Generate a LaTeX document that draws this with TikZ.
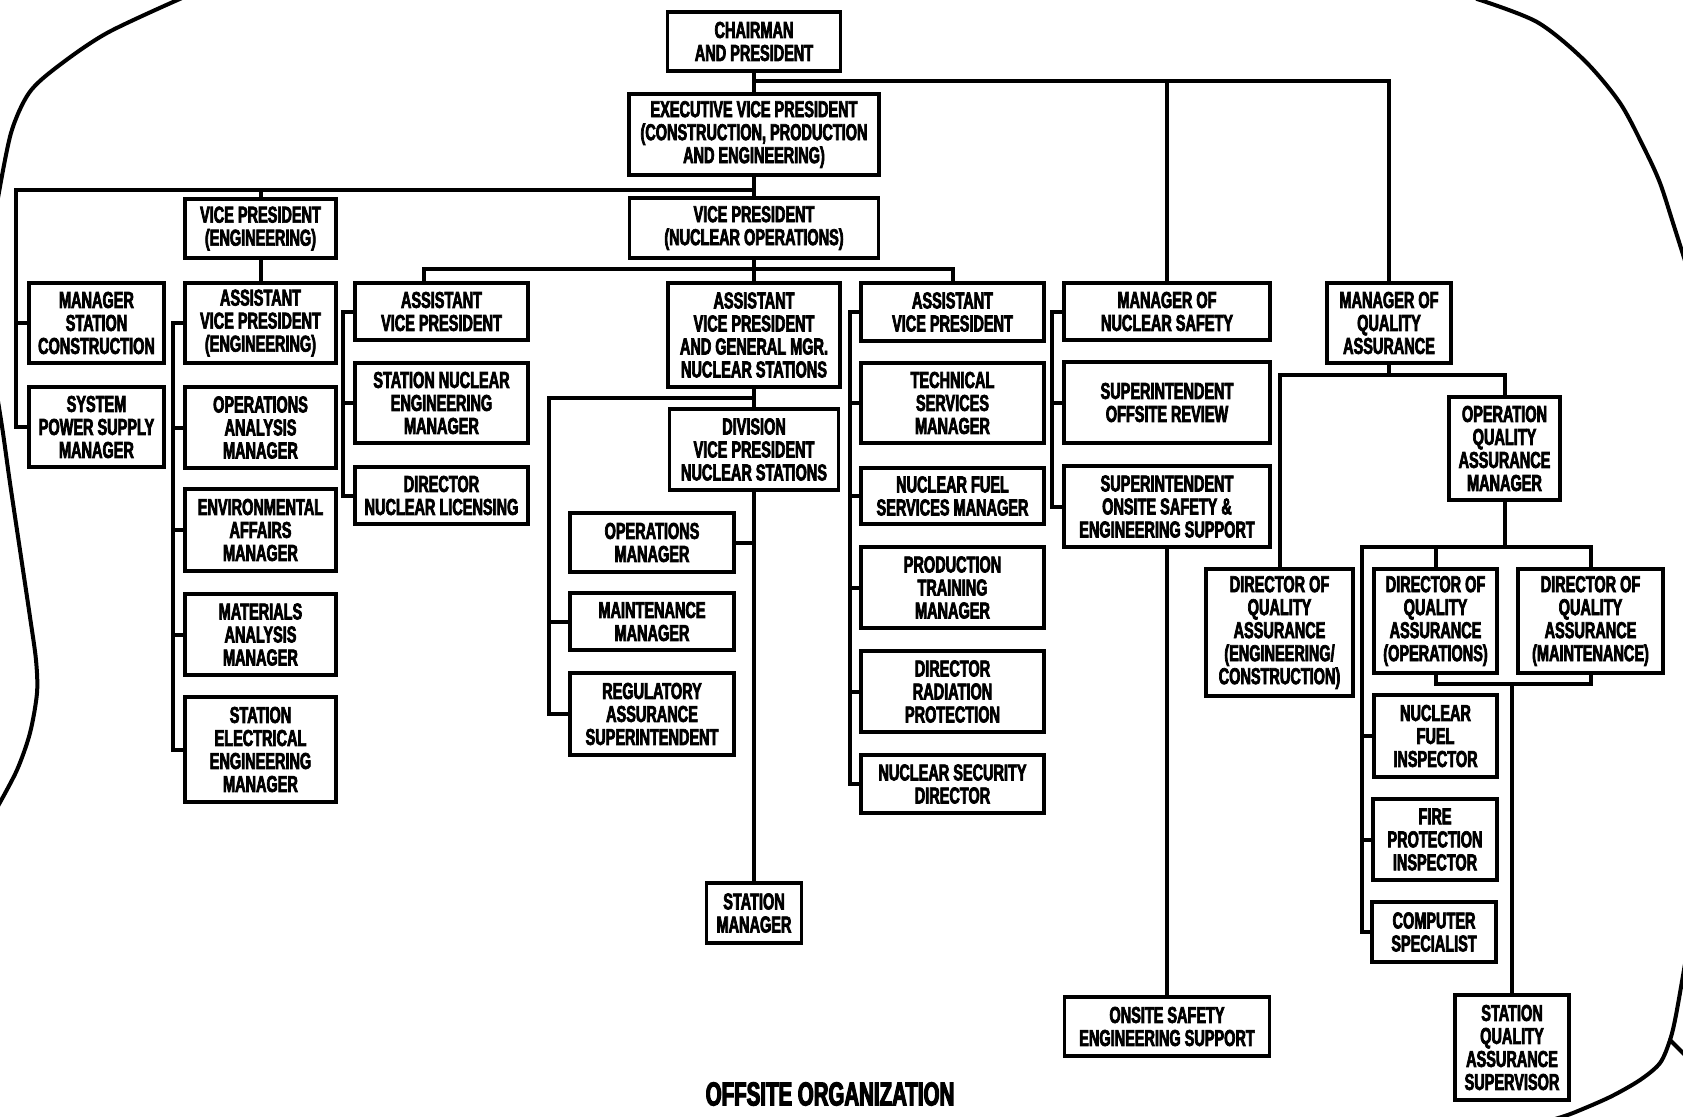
\documentclass[tikz,border=0pt]{standalone}
\usepackage{fontspec}
\newfontfamily\orgfont[FakeStretch=0.63,FakeBold=3]{Liberation Sans Bold}
\newfontfamily\ttlfont[FakeStretch=0.62,FakeBold=3.5]{Liberation Sans Bold}
\begin{document}
\begin{tikzpicture}[x=1pt,y=-1pt,
  obox/.style={draw, line width=3.5pt, inner sep=0pt, align=center, fill=white,
    font=\orgfont\fontsize{23}{23}\selectfont},
  conn/.style={line width=4pt},
  edge/.style={line width=4pt, line cap=round, line join=round}]
\useasboundingbox (0,0) rectangle (1683,1116);
\clip (0,0) rectangle (1683,1116);
\fill[white] (0,0) rectangle (1683,1116);

% boundary of the sheet
\draw[edge] plot[smooth] coordinates {(182,-2) (107,33) (57,67) (29,93) (11,133) (-2,198)};
\draw[edge] plot[smooth] coordinates {(-3,395) (3,433) (10,483) (20,550) (30,617) (36,660) (37,693) (30,733) (17,770) (-2,806)};
\draw[edge] plot[smooth] coordinates {(1477,-1) (1537,22) (1584,60) (1620,103) (1645,150) (1660,183) (1673,223) (1686,264)};
\draw[edge] plot[smooth] coordinates {(1686,958) (1676,1015) (1670,1040) (1660,1063) (1640,1080) (1610,1097) (1573,1113) (1555,1119)};
\draw[edge] (1670,1040) -- (1686,1056);

% boxes
\node[obox, minimum width=173pt, minimum height=59pt] (ch) at (754,41.5) {CHAIRMAN\\AND PRESIDENT};
\node[obox, minimum width=250pt, minimum height=81pt] (evp) at (754,134.5) {EXECUTIVE VICE PRESIDENT\\(CONSTRUCTION, PRODUCTION\\AND ENGINEERING)};
\node[obox, minimum width=249pt, minimum height=60pt] (vpno) at (754,228) {VICE PRESIDENT\\(NUCLEAR OPERATIONS)};
\node[obox, minimum width=151pt, minimum height=59pt] (vpe) at (260.5,228.5) {VICE PRESIDENT\\(ENGINEERING)};
\node[obox, minimum width=135pt, minimum height=80pt] (msc) at (96.5,323) {MANAGER\\STATION\\CONSTRUCTION};
\node[obox, minimum width=135pt, minimum height=80pt] (sps) at (96.5,427) {SYSTEM\\POWER SUPPLY\\MANAGER};
\node[obox, minimum width=151pt, minimum height=80pt] (avpe) at (260.5,323) {ASSISTANT\\VICE PRESIDENT\\(ENGINEERING)};
\node[obox, minimum width=151pt, minimum height=81pt] (oam) at (260.5,427.5) {OPERATIONS\\ANALYSIS\\MANAGER};
\node[obox, minimum width=151pt, minimum height=82pt] (eam) at (260.5,530) {ENVIRONMENTAL\\AFFAIRS\\MANAGER};
\node[obox, minimum width=151pt, minimum height=81pt] (mam) at (260.5,634.5) {MATERIALS\\ANALYSIS\\MANAGER};
\node[obox, minimum width=151pt, minimum height=105pt] (seem) at (260.5,749.5) {STATION\\ELECTRICAL\\ENGINEERING\\MANAGER};
\node[obox, minimum width=173pt, minimum height=57pt] (avp1) at (441.5,311.5) {ASSISTANT\\VICE PRESIDENT};
\node[obox, minimum width=173pt, minimum height=80pt] (snem) at (441.5,403) {STATION NUCLEAR\\ENGINEERING\\MANAGER};
\node[obox, minimum width=173pt, minimum height=57pt] (dnl) at (441.5,495.5) {DIRECTOR\\NUCLEAR LICENSING};
\node[obox, minimum width=172pt, minimum height=104pt] (avpgm) at (754,335) {ASSISTANT\\VICE PRESIDENT\\AND GENERAL MGR.\\NUCLEAR STATIONS};
\node[obox, minimum width=169pt, minimum height=81pt] (dvp) at (754,449.5) {DIVISION\\VICE PRESIDENT\\NUCLEAR STATIONS};
\node[obox, minimum width=164pt, minimum height=59pt] (opm) at (652,542.5) {OPERATIONS\\MANAGER};
\node[obox, minimum width=164pt, minimum height=57pt] (mtm) at (652,621.5) {MAINTENANCE\\MANAGER};
\node[obox, minimum width=164pt, minimum height=82pt] (ras) at (652,714) {REGULATORY\\ASSURANCE\\SUPERINTENDENT};
\node[obox, minimum width=95pt, minimum height=60pt] (stm) at (754,913) {STATION\\MANAGER};
\node[obox, minimum width=183pt, minimum height=58pt] (avp2) at (952.5,312) {ASSISTANT\\VICE PRESIDENT};
\node[obox, minimum width=183pt, minimum height=80pt] (tsm) at (952.5,403) {TECHNICAL\\SERVICES\\MANAGER};
\node[obox, minimum width=183pt, minimum height=56pt] (nfs) at (952.5,496) {NUCLEAR FUEL\\SERVICES MANAGER};
\node[obox, minimum width=183pt, minimum height=81pt] (ptm) at (952.5,587.5) {PRODUCTION\\TRAINING\\MANAGER};
\node[obox, minimum width=183pt, minimum height=81pt] (drp) at (952.5,691.5) {DIRECTOR\\RADIATION\\PROTECTION};
\node[obox, minimum width=183pt, minimum height=58pt] (nsd) at (952.5,784) {NUCLEAR SECURITY\\DIRECTOR};
\node[obox, minimum width=206pt, minimum height=57pt] (mns) at (1167,311.5) {MANAGER OF\\NUCLEAR SAFETY};
\node[obox, minimum width=206pt, minimum height=81pt] (sor) at (1167,402.5) {SUPERINTENDENT\\OFFSITE REVIEW};
\node[obox, minimum width=206pt, minimum height=81pt] (sos) at (1167,506.5) {SUPERINTENDENT\\ONSITE SAFETY \&\\ENGINEERING SUPPORT};
\node[obox, minimum width=205pt, minimum height=59pt] (oses) at (1167,1026.5) {ONSITE SAFETY\\ENGINEERING SUPPORT};
\node[obox, minimum width=124pt, minimum height=80pt] (mqa) at (1389,323) {MANAGER OF\\QUALITY\\ASSURANCE};
\node[obox, minimum width=111pt, minimum height=103pt] (oqam) at (1504.5,448.5) {OPERATION\\QUALITY\\ASSURANCE\\MANAGER};
\node[obox, minimum width=147pt, minimum height=127pt] (dqae) at (1279.5,632.5) {DIRECTOR OF\\QUALITY\\ASSURANCE\\(ENGINEERING/\\CONSTRUCTION)};
\node[obox, minimum width=123pt, minimum height=104pt] (dqao) at (1435.5,621) {DIRECTOR OF\\QUALITY\\ASSURANCE\\(OPERATIONS)};
\node[obox, minimum width=145pt, minimum height=104pt] (dqam) at (1590.5,621) {DIRECTOR OF\\QUALITY\\ASSURANCE\\(MAINTENANCE)};
\node[obox, minimum width=123pt, minimum height=82pt] (nfi) at (1435.5,736) {NUCLEAR\\FUEL\\INSPECTOR};
\node[obox, minimum width=124pt, minimum height=81pt] (fpi) at (1435,839.5) {FIRE\\PROTECTION\\INSPECTOR};
\node[obox, minimum width=124pt, minimum height=60pt] (cs) at (1434,932) {COMPUTER\\SPECIALIST};
\node[obox, minimum width=114pt, minimum height=105pt] (sqas) at (1512,1047.5) {STATION\\QUALITY\\ASSURANCE\\SUPERVISOR};

\node[font=\ttlfont\fontsize{33}{33}\selectfont, inner sep=0pt] (title) at (830,1094) {OFFSITE ORGANIZATION};

% connectors
\coordinate (j1) at (754,81);
\coordinate (j2) at (754,190);
\coordinate (lb) at (16,190);
\coordinate (j3) at (754,269);
\coordinate (j4) at (754,398);
\coordinate (db) at (549,398);
\coordinate (j5) at (1389,375);
\coordinate (j6) at (1504.5,547);
\coordinate (qb) at (1362,547);
\coordinate (j7) at (1512,684);

\draw[conn] (ch.south) -- (evp.north);
\draw[conn] (j1) -| (mqa.north);
\draw[conn] (mns.north) -- (mns.north |- j1);
\draw[conn] (evp.south) -- (vpno.north);
\draw[conn] (j2) -- (lb) |- (sps.west);
\draw[conn] (msc.west) -- (msc.west -| lb);
\draw[conn] (vpe.north) -- (vpe.north |- j2);
\draw[conn] (vpe.south) -- (avpe.north);
\draw[conn] (avpe.west) -- ++(-10,0) coordinate (eb) |- (seem.west);
\draw[conn] (oam.west) -- (oam.west -| eb);
\draw[conn] (eam.west) -- (eam.west -| eb);
\draw[conn] (mam.west) -- (mam.west -| eb);
\draw[conn] (vpno.south) -- (avpgm.north);
\draw[conn] ([xshift=-18pt]avp1.north) |- (j3) -| (avp2.north);
\draw[conn] (avp1.west) -- ++(-10,0) coordinate (ab) |- (dnl.west);
\draw[conn] (snem.west) -- (snem.west -| ab);
\draw[conn] (avpgm.south) -- (dvp.north);
\draw[conn] (j4) -- (db) |- (ras.west);
\draw[conn] (mtm.west) -- (mtm.west -| db);
\draw[conn] (dvp.south) -- (stm.north);
\draw[conn] (opm.east) -- (opm.east -| dvp.south);
\draw[conn] (avp2.west) -- ++(-9,0) coordinate (tb) |- (nsd.west);
\draw[conn] (tsm.west) -- (tsm.west -| tb);
\draw[conn] (nfs.west) -- (nfs.west -| tb);
\draw[conn] (ptm.west) -- (ptm.west -| tb);
\draw[conn] (drp.west) -- (drp.west -| tb);
\draw[conn] (mns.west) -- ++(-10,0) coordinate (sb) |- (sos.west);
\draw[conn] (sor.west) -- (sor.west -| sb);
\draw[conn] (sos.south) -- (oses.north);
\draw[conn] (mqa.south) -- (j5);
\draw[conn] (dqae.north) |- (j5) -| (oqam.north);
\draw[conn] (oqam.south) -- (j6);
\draw[conn] (j6) -| (dqam.north);
\draw[conn] (dqao.north) -- (dqao.north |- j6);
\draw[conn] (j6) -- (qb) |- (cs.west);
\draw[conn] (nfi.west) -- (nfi.west -| qb);
\draw[conn] (fpi.west) -- (fpi.west -| qb);
\draw[conn] (dqao.south) |- (j7) -| (dqam.south);
\draw[conn] (j7) -- (sqas.north);
\end{tikzpicture}
\end{document}
